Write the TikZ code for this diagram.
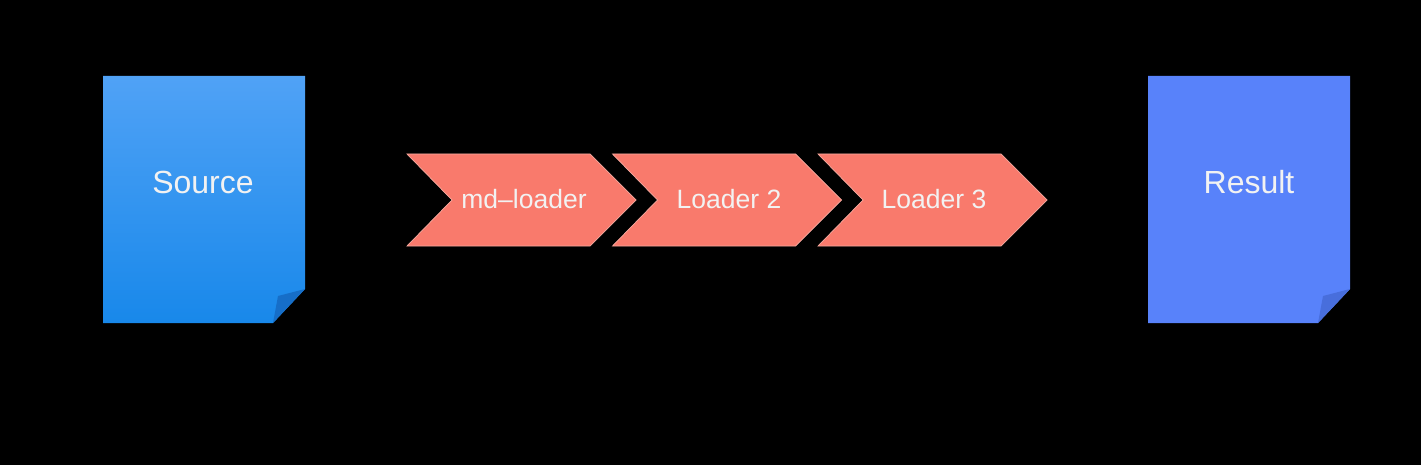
\documentclass[tikz,border=0pt]{standalone}
\usepackage{fontspec}
\setmainfont{Liberation Sans}
\definecolor{srctop}{RGB}{80,162,246}
\definecolor{srcbot}{RGB}{24,136,234}
\definecolor{srcfold}{RGB}{22,110,200}
\definecolor{resfill}{RGB}{88,130,250}
\definecolor{resfold}{RGB}{72,110,220}
\definecolor{chev}{RGB}{249,122,108}
\definecolor{chevedge}{RGB}{246,170,160}
\definecolor{txt}{RGB}{242,242,242}
\tikzset{
  lbl/.style={text=txt, inner sep=0pt, anchor=center},
  doclbl/.style={lbl, font=\fontsize{32}{36}\selectfont},
  chevlbl/.style={lbl, font=\fontsize{26.5}{30}\selectfont},
  chevshape/.style={fill=chev, draw=chevedge, line width=0.7pt, line join=miter},
}
\begin{document}
\begin{tikzpicture}[x=1pt,y=-1pt]
\useasboundingbox (0,0) rectangle (1421,465);
\fill[black] (0,0) rectangle (1421,465);
% Source document
\shade[top color=srctop, bottom color=srcbot]
  (103,76) -- (305,76) -- (305,289) -- (273,323) -- (103,323) -- cycle;
\fill[srcfold] (305,289) -- (278,296) -- (273,323) -- cycle;
\node[doclbl] (source) at (203,182) {Source};
% Result document
\fill[resfill] (1148,76) -- (1350,76) -- (1350,289) -- (1318,323) -- (1148,323) -- cycle;
\fill[resfold] (1350,289) -- (1323,296) -- (1318,323) -- cycle;
\node[doclbl] (result) at (1249,182) {Result};
% Chevrons
\foreach \x in {407,612.5,818}{
  \filldraw[chevshape] (\x,154) -- (\x+183,154) -- (\x+229,200) -- (\x+183,246) -- (\x,246) -- (\x+45,200) -- cycle;
}
\node[chevlbl] (l1) at (524,199) {md–loader};
\node[chevlbl] (l2) at (729,199) {Loader 2};
\node[chevlbl] (l3) at (934,199) {Loader 3};
\end{tikzpicture}
\end{document}
